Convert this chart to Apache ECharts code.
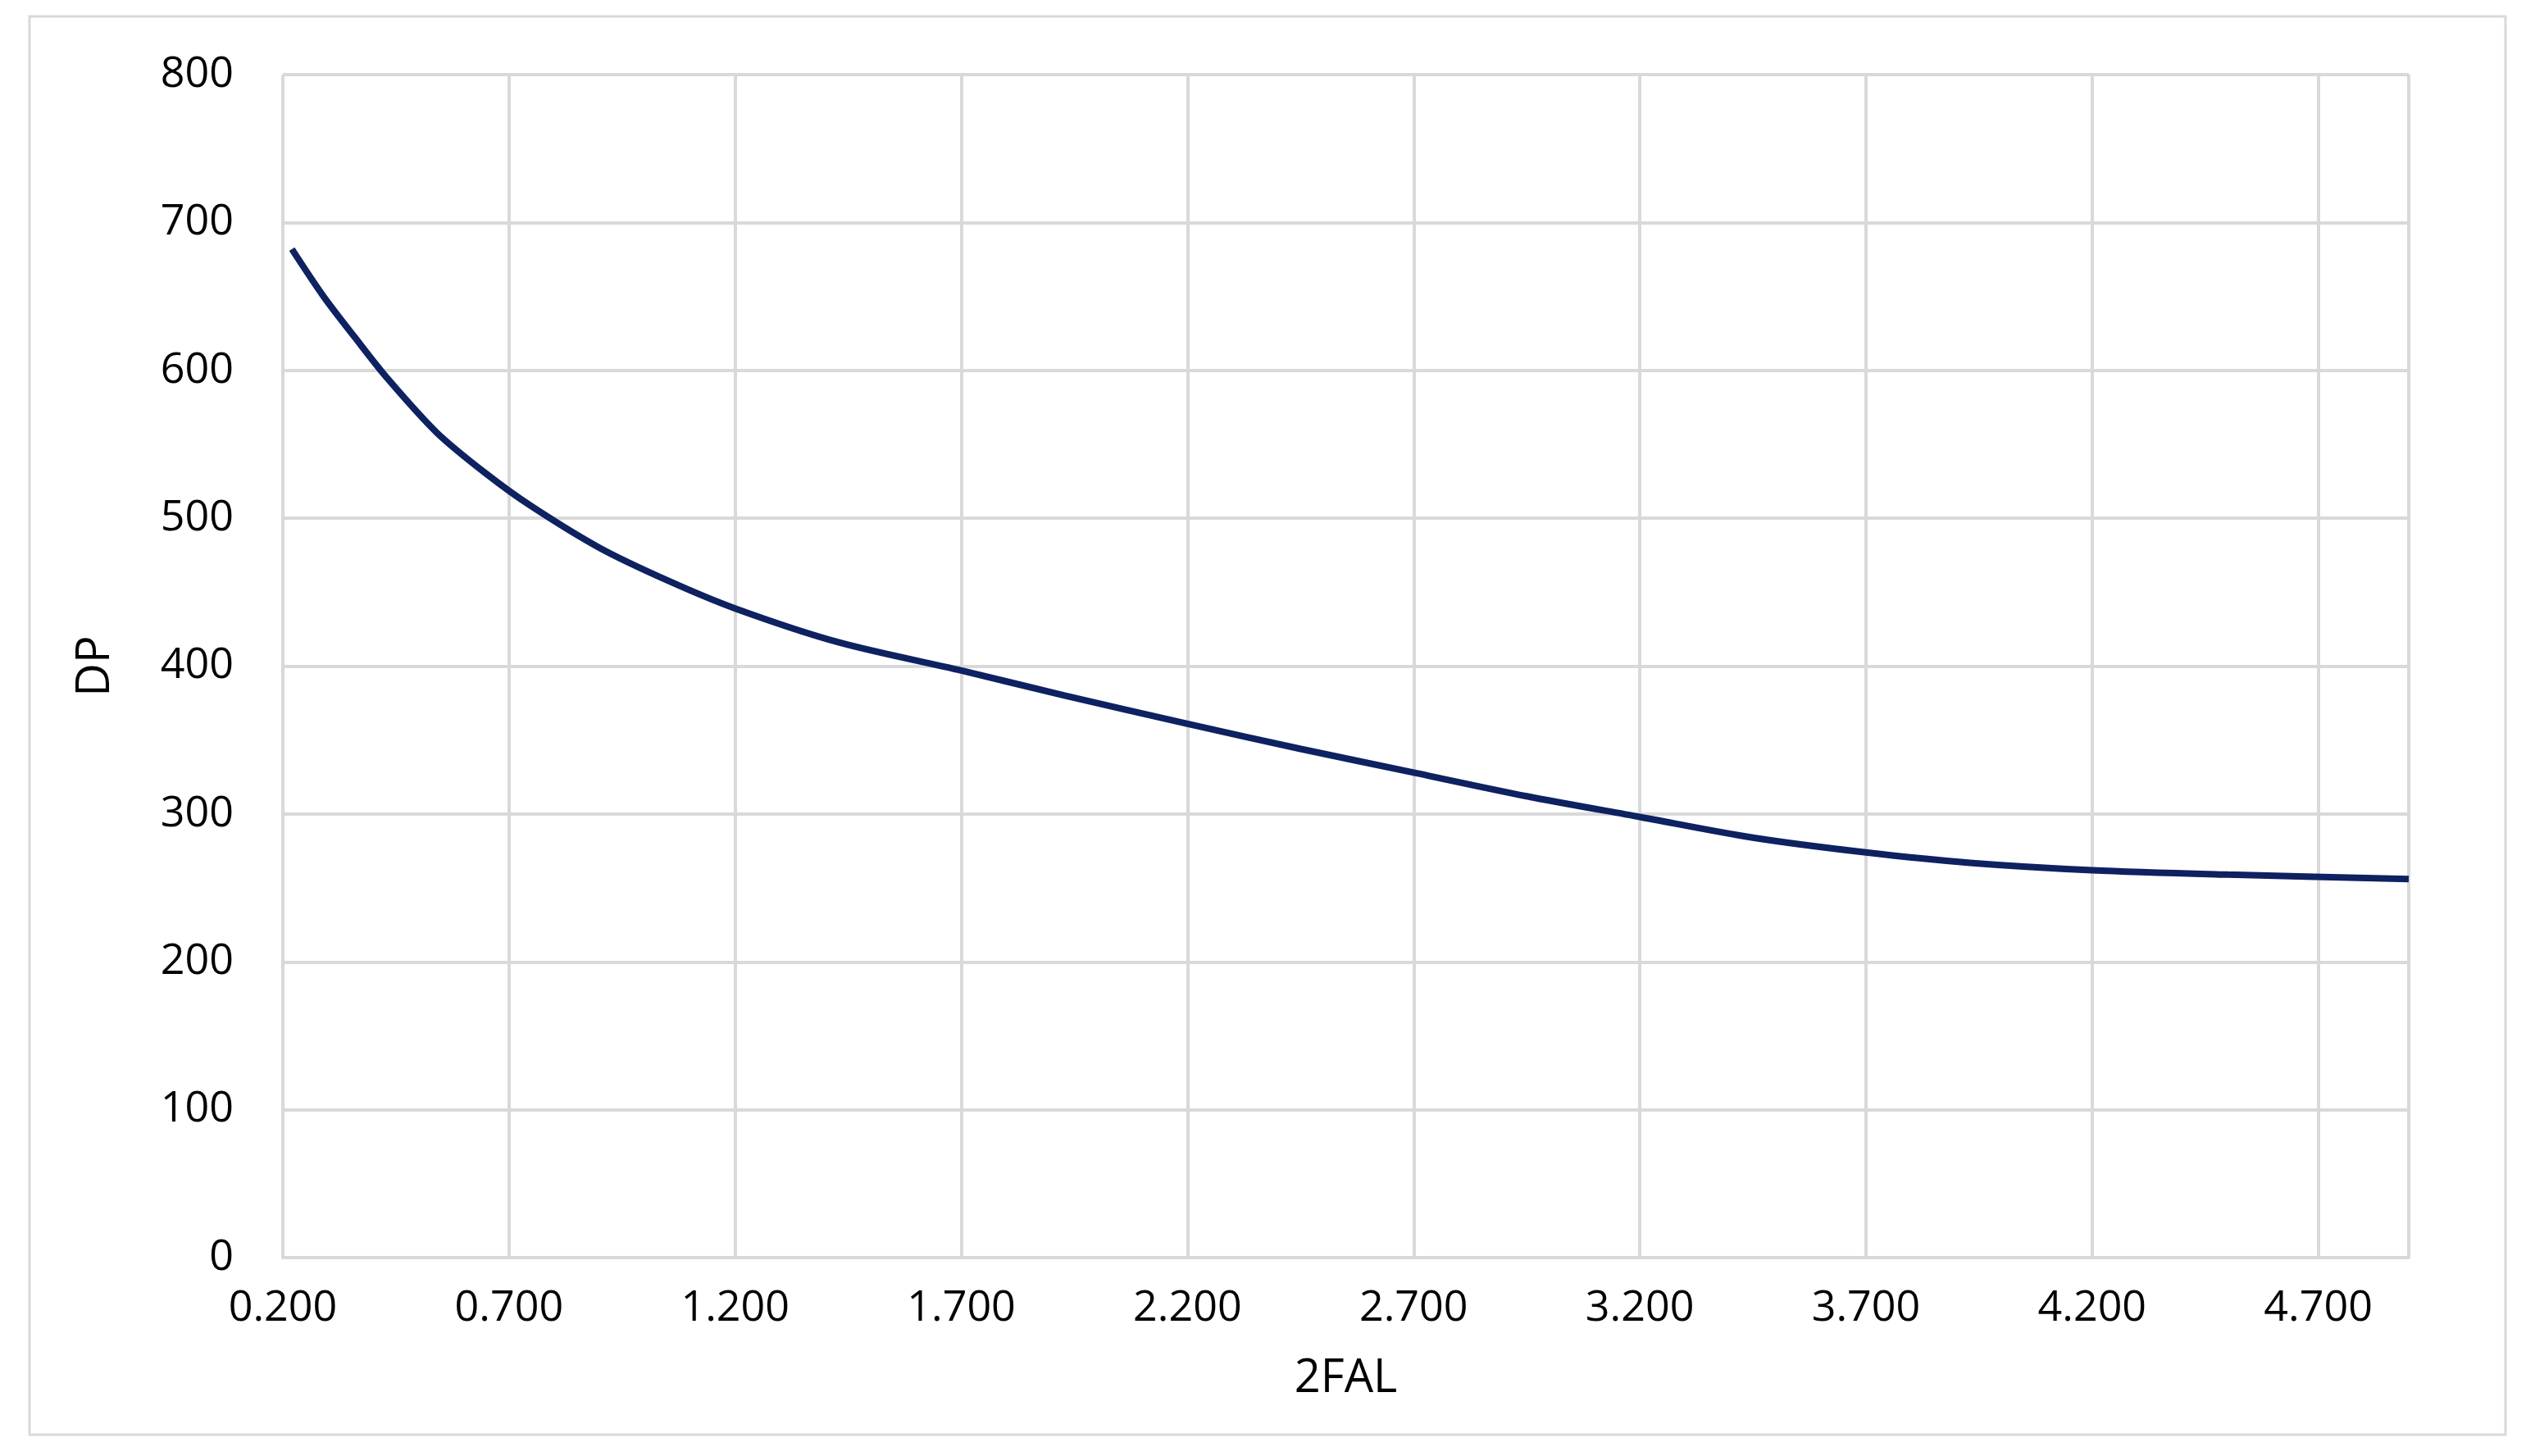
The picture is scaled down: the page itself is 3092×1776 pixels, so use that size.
<!DOCTYPE html>
<html><head><meta charset="utf-8">
<script src="https://cdn.jsdelivr.net/npm/echarts@6/dist/echarts.min.js"></script>
<style>html,body{margin:0;background:#fff}#main{width:3092px;height:1776px}</style>
</head><body><div id="main"></div>
<script>
// values
var falValues = [0.22, 0.29, 0.36, 0.43, 0.54, 0.65, 0.75, 0.90, 1.05, 1.20, 1.43, 1.70, 1.93, 2.20, 2.45, 2.70, 2.95, 3.20, 3.45, 3.70, 3.93, 4.20, 4.50, 4.90];
var dpValues = [682, 650, 622, 595, 558, 530, 508, 480, 458, 439, 416, 397, 380, 361, 344, 328, 312, 298, 284, 274, 267, 262, 259, 256];
var xStart = 0.2;

var myChart = echarts.init(document.getElementById('main'));
var font = '"Open Sans", sans-serif';
var option = {
  animation: false,
  graphic: [{type: 'rect', shape: {x: 36, y: 20, width: 3020, height: 1730},
    style: {fill: 'none', stroke: '#d9d9d9', lineWidth: 3}}],
  grid: {left: 345, right: 154, top: 91, bottom: 242},
  xAxis: {
    type: 'value', min: 0, max: 4.7, interval: 0.5,
    name: '2FAL', nameLocation: 'middle', nameGap: 120,
    nameTextStyle: {fontSize: 56, color: '#000', fontFamily: font},
    axisLine: {show: true, lineStyle: {color: '#d9d9d9', width: 4}},
    axisTick: {show: false},
    axisLabel: {fontSize: 52, color: '#000', fontFamily: font, margin: 36,
      formatter: function (v) { return v > 4.65 ? '' : (v + xStart).toFixed(3); }},
    splitLine: {show: true, lineStyle: {color: '#d9d9d9', width: 4}}
  },
  yAxis: {
    type: 'value', min: 0, max: 800, interval: 100,
    name: 'DP', nameLocation: 'middle', nameGap: 200,
    nameTextStyle: {fontSize: 56, color: '#000', fontFamily: font},
    axisLine: {show: false}, axisTick: {show: false},
    axisLabel: {fontSize: 52, color: '#000', fontFamily: font, margin: 60},
    splitLine: {lineStyle: {color: '#d9d9d9', width: 4}}
  },
  series: [{
    type: 'line', smooth: 0.3, showSymbol: false,
    lineStyle: {color: '#0e2160', width: 8},
    data: falValues.map(function (x, i) { return [x - xStart, dpValues[i]]; })
  }]
};
myChart.setOption(option);
</script></body></html>
